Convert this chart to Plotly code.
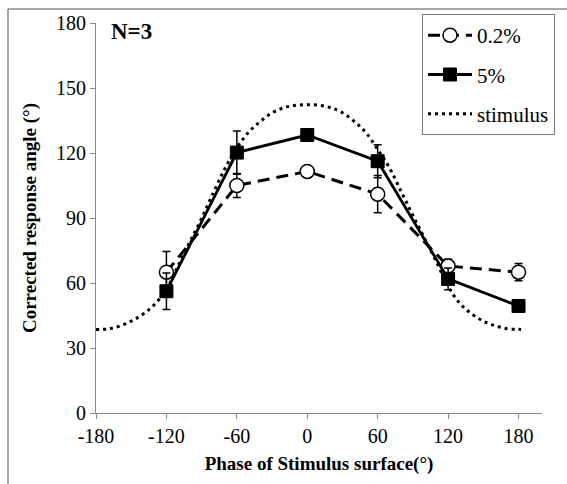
import plotly.graph_objects as go

# Measured response (mean ± error) at each stimulus phase
phase = [-120, -60, 0, 60, 120, 180]
resp_02 = [65.0, 105.0, 111.5, 101.0, 67.8, 65.0]
err_02 = [9.5, 5.5, 2.0, 8.6, 3.2, 4.0]
resp_5 = [56.2, 120.2, 128.3, 116.2, 61.9, 49.4]
err_5 = [8.4, 10.0, 2.0, 7.6, 5.0, 2.0]

# Stimulus surface angle traced along the phase axis
stim_phase = [-180, -170, -160, -150, -140, -130, -120, -110, -100, -90,
              -80, -70, -60, -50, -40, -30, -20, -10, 0,
              10, 20, 30, 40, 50, 60, 70, 80, 90, 100,
              110, 120, 130, 140, 150, 160, 170, 180, 186]
stim_angle = [38.5, 38.8, 40.1, 42.4, 45.6, 50.2, 57.0, 68.0, 79.0, 89.8,
              101.7, 113.0, 122.4, 129.6, 134.5, 138.5, 140.9, 142.0, 142.3,
              142.0, 140.9, 138.6, 134.6, 129.4, 121.6, 113.2, 102.2, 91.2, 80.5,
              69.8, 58.5, 50.6, 45.8, 42.4, 40.3, 38.9, 38.6, 38.6]

x_ticks = [-180, -120, -60, 0, 60, 120, 180]
y_ticks = [0, 30, 60, 90, 120, 150, 180]

SERIF = "Liberation Serif, Times New Roman, serif"
AXIS_GRAY = "#8a8a8a"

W, H = 567, 484
M_L, M_R, M_T, M_B = 96, 25, 21, 71

fig = go.Figure()

fig.add_trace(go.Scatter(
    x=stim_phase, y=stim_angle, mode="lines", name="stimulus",
    line=dict(color="black", width=3, dash="3px,4px", shape="spline"),
    legendgroup="c", legendrank=3,
))
fig.add_trace(go.Scatter(
    x=phase, y=resp_02, mode="lines+markers", name="0.2%",
    line=dict(color="black", width=3, dash="12px,7px"),
    marker=dict(symbol="circle", size=14, color="white",
                line=dict(color="black", width=1.5)),
    error_y=dict(type="data", array=err_02, visible=True,
                 color="black", thickness=1.5, width=4),
    legendgroup="a", legendrank=1,
))
fig.add_trace(go.Scatter(
    x=phase, y=resp_5, mode="lines+markers", name="5%",
    line=dict(color="black", width=2.8),
    marker=dict(symbol="square", size=13, color="black",
                line=dict(color="black", width=1)),
    error_y=dict(type="data", array=err_5, visible=True,
                 color="black", thickness=1.5, width=4),
    legendgroup="b", legendrank=2,
))

# Outer frame (top and left edges) around the figure
pw = W - M_L - M_R
ph = H - M_T - M_B
fx0 = (8 - M_L) / pw
fy_top = (H - M_B - 7) / ph
fig.add_shape(type="line", xref="paper", yref="paper",
              x0=fx0, x1=(W + 5 - M_L) / pw, y0=fy_top, y1=fy_top,
              line=dict(color=AXIS_GRAY, width=1.5))
fig.add_shape(type="line", xref="paper", yref="paper",
              x0=fx0, x1=fx0, y0=fy_top, y1=(-M_B - 5) / ph,
              line=dict(color=AXIS_GRAY, width=1.5))

fig.add_annotation(
    text="<b>N=3</b>", xref="paper", yref="paper",
    x=(109 - M_L) / pw, y=(H - M_B - 30) / ph,
    xanchor="left", yanchor="middle", showarrow=False,
    font=dict(family=SERIF, size=23, color="black"),
)

fig.update_layout(
    width=W, height=H,
    margin=dict(l=M_L, r=M_R, t=M_T, b=M_B),
    paper_bgcolor="white", plot_bgcolor="white",
    font=dict(family=SERIF, color="black", size=20),
    legend=dict(
        x=(422 - M_L) / pw, y=(H - M_B - 12) / ph,
        xanchor="left", yanchor="top",
        bordercolor="#7a7a7a", borderwidth=1, bgcolor="white",
        font=dict(family=SERIF, size=21, color="black"),
        tracegroupgap=9, itemwidth=44,
    ),
    xaxis=dict(
        range=[-180, 200], tickvals=x_ticks,
        ticktext=[str(v) for v in x_ticks],
        showgrid=False, zeroline=False,
        showline=True, linecolor=AXIS_GRAY, linewidth=1.2,
        ticks="outside", ticklen=5, tickcolor=AXIS_GRAY, tickwidth=1.2,
        tickfont=dict(family=SERIF, size=20, color="black"),
        title=dict(text="<b>Phase of Stimulus surface(°)</b>",
                   font=dict(family=SERIF, size=19, color="black"),
                   standoff=10),
    ),
    yaxis=dict(
        range=[0, 180], tickvals=y_ticks,
        showgrid=False, zeroline=False,
        showline=True, linecolor=AXIS_GRAY, linewidth=1.2,
        ticks="outside", ticklen=5, tickcolor=AXIS_GRAY, tickwidth=1.2,
        tickfont=dict(family=SERIF, size=20, color="black"),
        title=dict(text="<b>Corrected response angle (°)</b>",
                   font=dict(family=SERIF, size=19, color="black"),
                   standoff=14),
    ),
)

fig.write_html("out.html")
